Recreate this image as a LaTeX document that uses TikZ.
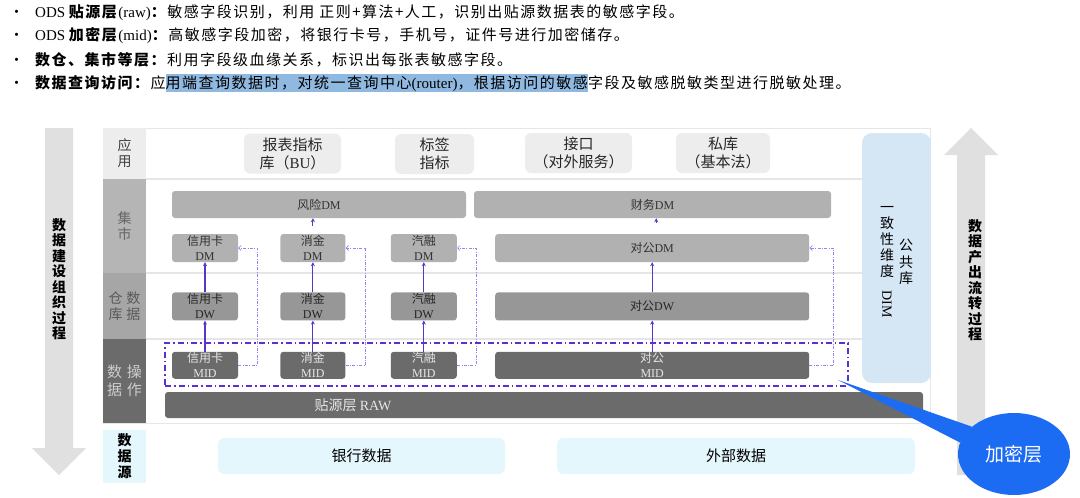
\documentclass[tikz,border=0pt]{standalone}
\usepackage{fontspec}
\setmainfont{Noto Sans CJK SC}
\newfontfamily\lat{Liberation Serif}
\newfontfamily\notefont{Noto Sans CJK SC}[LetterSpace=10]
\usetikzlibrary{arrows.meta, positioning, shapes.geometric}

\definecolor{flowgray}{HTML}{E0E0E0}
\definecolor{appgray}{HTML}{EDEDED}
\definecolor{martgray}{HTML}{B5B5B5}
\definecolor{whgray}{HTML}{A6A6A6}
\definecolor{dmgray}{HTML}{B1B1B1}
\definecolor{dwgray}{HTML}{979797}
\definecolor{midgray}{HTML}{6B6B6B}
\definecolor{midtext}{HTML}{E6E6E6}
\definecolor{srccyan}{HTML}{E4F7FD}
\definecolor{dimblue}{HTML}{D5E6F5}
\definecolor{linegray}{HTML}{E6E6E6}
\definecolor{uppurple}{HTML}{5A36C8}
\definecolor{backpurple}{HTML}{9A82F2}
\definecolor{encpurple}{HTML}{5B2FD6}
\definecolor{callblue}{HTML}{1B6CF2}
\definecolor{hlblue}{HTML}{8FB9E0}

\newcommand\hlmark[1]{{\setlength\fboxsep{0pt}\colorbox{hlblue}{\rule[-4pt]{0pt}{18pt}#1}}}

\begin{document}
\begin{tikzpicture}[x=1pt, y=-1pt,
    note/.style={anchor=west, inner sep=0pt, font=\notefont\fontsize{15}{18}\selectfont},
    flowtxt/.style={inner sep=0pt, align=center, font=\fontsize{14}{15.5}\selectfont\bfseries},
    layer/.style={rectangle, inner sep=0pt, minimum width=43pt, align=center, font=\fontsize{14}{16}\selectfont},
    app/.style={rectangle, fill=appgray, rounded corners=6pt, inner sep=0pt, minimum height=40pt, align=center, text=black!85, font=\fontsize{15}{18}\selectfont},
    dm/.style={rectangle, fill=dmgray, rounded corners=3pt, inner sep=0pt, minimum height=28pt, align=center, text=black!80, font=\fontsize{12}{15}\selectfont},
    dw/.style={dm, fill=dwgray, text=black!85},
    mid/.style={dm, fill=midgray, text=midtext, minimum height=27pt},
    src/.style={rectangle, fill=srccyan, rounded corners=6pt, inner sep=0pt, minimum height=36pt, font=\fontsize{15}{18}\selectfont},
    up/.style={draw=uppurple, line width=1.1pt, -{Stealth[length=4pt, width=4pt]}},
    back/.style={draw=backpurple, line width=0.7pt, dash pattern=on 3pt off 1.5pt on 0.7pt off 1.5pt, -{Straight Barb[length=2.5pt, width=5pt]}},
    sep/.style={draw=linegray, line width=2.5pt}
]
    \useasboundingbox (0,0) rectangle (1080,498);

    % Notes above the diagram
    \node[note] (note1) at (9,13) {\makebox[26pt][l]{•}{\lat ODS }\textbf{贴源层}{\lat (raw)}\textbf{：}敏感字段识别，利用 正则+算法+人工，识别出贴源数据表的敏感字段。};
    \node[note] (note2) at (9,36) {\makebox[26pt][l]{•}{\lat ODS }\textbf{加密层}{\lat (mid)}\textbf{：}高敏感字段加密，将银行卡号，手机号，证件号进行加密储存。};
    \node[note] (note3) at (9,60) {\makebox[26pt][l]{•}\textbf{数仓、集市等层：}利用字段级血缘关系，标识出每张表敏感字段。};
    \node[note] (note4) at (9,83) {\makebox[26pt][l]{•}\textbf{数据查询访问：}应\hlmark{用端查询数据时，对统一查询中心{\lat (router)}，根据访问的敏感}字段及敏感脱敏类型进行脱敏处理。};

    % Big grey process arrows
    \fill[flowgray] (45,128) -- (73,128) -- (73,448) -- (86,448) -- (59,475) -- (32,448) -- (45,448) -- cycle;
    \node[flowtxt] (buildTxt) at (59,279) {数\\据\\建\\设\\组\\织\\过\\程};
    \fill[flowgray] (957,475) -- (985,475) -- (985,155) -- (998,155) -- (971,128) -- (944,155) -- (957,155) -- cycle;
    \node[flowtxt] (flowTxt) at (975,280) {数\\据\\产\\出\\流\\转\\过\\程};

    % Frame and layer separators
    \draw[linegray, line width=1pt] (103,128) rectangle (930,423);
    \foreach \y in {179,273,339}
        \draw[sep] (146,\y) -- (930,\y);

    % Layer labels
    \node[layer, fill=appgray, minimum height=51pt, text=black!75] (lyApp) at (124.5,153.5) {应\\用};
    \node[layer, fill=martgray, minimum height=94pt, text=black!60] (lyMart) at (124.5,226) {集\\市};
    \node[layer, fill=whgray, minimum height=66pt, text=black!65] (lyWh) at (124.5,306) {仓\hspace{4pt}数\\库\hspace{4pt}据};
    \node[layer, fill=midgray, minimum height=84pt, text=black!20, font=\fontsize{15}{18}\selectfont] (lyOp) at (124.5,381) {数\hspace{5pt}操\\据\hspace{5pt}作};
    \node[layer, fill=srccyan, minimum height=53pt, font=\fontsize{14}{16}\selectfont\bfseries] (lySrc) at (124.5,456.5) {数\\据\\源};

    % Application layer
    \node[app, minimum width=97pt] (bbApp) at (292.5,153.5) {报表指标\\库（{\lat BU}）};
    \node[app, minimum width=79pt] (bqApp) at (434.5,154) {标签\\指标};
    \node[app, minimum width=107pt] (jkApp) at (578.5,153) {接口\\（对外服务）};
    \node[app, minimum width=94pt] (skApp) at (723,153) {私库\\（基本法）};

    % Mart layer
    \node[dm, minimum width=294pt, minimum height=27pt] (fxDM) at (319,204.5) {风险{\lat DM}};
    \node[dm, minimum width=357pt, minimum height=27pt] (cwDM) at (652.5,204.5) {财务{\lat DM}};
    \node[dm, minimum width=66pt] (xykDM) at (205,248) {信用卡\\{\lat DM}};
    \node[dm, minimum width=65pt, right=42pt of xykDM] (xjDM) {消金\\{\lat DM}};
    \node[dm, minimum width=66pt, right=45pt of xjDM] (qrDM) {汽融\\{\lat DM}};
    \node[dm, minimum width=314pt, right=38pt of qrDM] (dgDM) {对公{\lat DM}};

    % Warehouse layer
    \node[dw, minimum width=66pt, below=30pt of xykDM] (xykDW) {信用卡\\{\lat DW}};
    \node[dw, minimum width=65pt, below=30pt of xjDM] (xjDW) {消金\\{\lat DW}};
    \node[dw, minimum width=66pt, below=30pt of qrDM] (qrDW) {汽融\\{\lat DW}};
    \node[dw, minimum width=314pt, below=30pt of dgDM] (dgDW) {对公{\lat DW}};

    % Operational data layer
    \node[mid, minimum width=66pt, below=31pt of xykDW] (xykMID) {信用卡\\{\lat MID}};
    \node[mid, minimum width=65pt, below=31pt of xjDW] (xjMID) {消金\\{\lat MID}};
    \node[mid, minimum width=66pt, below=31pt of qrDW] (qrMID) {汽融\\{\lat MID}};
    \node[mid, minimum width=314pt, below=31pt of dgDW] (dgMID) {对公\\{\lat MID}};
    \node[rectangle, fill=midgray, rounded corners=3pt, minimum width=758pt, minimum height=26pt, inner sep=0pt,
        label={[xshift=-191pt, text=midtext, font=\fontsize{14}{16}\selectfont]center:贴源层 {\lat RAW}}] (raw) at (544,405) {};

    % Sources
    \node[src, minimum width=287pt] (bankSrc) at (361.5,456) {银行数据};
    \node[src, minimum width=358pt] (extSrc) at (736,456) {外部数据};

    % Lineage arrows
    \foreach \t in {xyk, xj, qr, dg} {
        \draw[up] (\t MID) -- (\t DW);
        \draw[up] (\t DW) -- (\t DM);
    }
    \draw[up, shorten <=8pt] (xjDM.north) -- (xjDM.north |- fxDM.south);
    \draw[up, shorten <=11pt] ([xshift=4pt]dgDM.north) -- ([xshift=4pt]dgDM.north |- cwDM.south);

    % Direct MID to DM links
    \draw[back] (xykMID.east) -- ++(19,0) |- (xykDM.east);
    \draw[back] (xjMID.east) -- ++(20,0) |- (xjDM.east);
    \draw[back] (qrMID.east) -- ++(19,0) |- (qrDM.east);
    \draw[back] (dgMID.east) -- ++(24,0) |- (dgDM.east);

    % Encryption layer frame
    \node[draw=encpurple, line width=1.6pt, dash pattern=on 6pt off 3pt on 1.5pt off 3pt, minimum width=683pt, minimum height=43pt, inner sep=0pt] (enc) at (506.5,364.5) {};

    % Shared dimension library
    \node[rectangle, fill=dimblue, rounded corners=10pt, minimum width=69pt, minimum height=250pt, inner sep=0pt] (dim) at (896.5,258) {};
    \node[inner sep=0pt, align=center, font=\fontsize{14}{16}\selectfont] (dimTxt) at (887,262) {一\\致\\性\\维\\度\\[-2pt]\rotatebox{-90}{\lat DIM}};
    \node[inner sep=0pt, align=center, font=\fontsize{14}{16.5}\selectfont] (pubTxt) at (906,262) {公\\共\\库};

    % Callout
    \coordinate (encTip) at (838,380);
    \node[ellipse, fill=callblue, text=white, minimum width=112pt, minimum height=82pt, inner sep=0pt, font=\fontsize{19}{22}\selectfont] (encCall) at (1014,454) {加密层};
    \fill[callblue] (encTip) -- (encCall.147) -- (encCall.168) -- cycle;
\end{tikzpicture}
\end{document}
